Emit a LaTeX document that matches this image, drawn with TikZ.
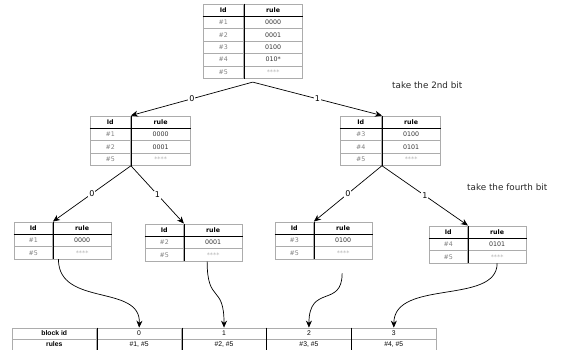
\documentclass[tikz,border=0pt]{standalone}
\usepackage{fontspec}
\setmainfont{DejaVu Sans}
\newfontfamily\arialf{Liberation Sans}
\usetikzlibrary{matrix,calc,arrows.meta}
\tikzset{
  cell/.style={draw=gray!65, inner sep=0pt, minimum height=12.5pt, font=\fontsize{6.3}{7}\selectfont, text=black!80},
  hd/.style={text=black, font=\bfseries\fontsize{6.3}{7}\selectfont},
  star/.style={text=gray!60},
  rtable/.style 2 args={matrix of nodes, anchor=north west, column sep=-0.5pt, row sep=-0.5pt,
    nodes={cell},
    column 1/.style={nodes={minimum width=#1, text=gray}},
    column 2/.style={nodes={minimum width=#2}}},
  divline/.style={draw=black, line width=0.5pt},
  edge/.style={line width=0.7pt, -{Stealth[length=7pt,width=6pt]}},
  lbl/.style={fill=white, inner sep=1pt, font=\fontsize{8}{9}\selectfont},
  note/.style={anchor=west, inner sep=0pt, font=\fontsize{8.8}{10}\selectfont, text=black!85},
  bcell/.style={draw=gray!65, inner sep=0pt, minimum width=85pt, minimum height=11pt, font=\arialf\fontsize{6.8}{8}\selectfont},
  bh/.style={font=\arialf\bfseries\fontsize{6.8}{8}\selectfont}
}
\begin{document}
\begin{tikzpicture}[x=1pt, y=-1pt]
\useasboundingbox (0,0) rectangle (565,349);

% top table
\matrix (top) [rtable={41pt}{59pt}] at (199,0) {
  |[hd]| Id & |[hd]| rule \\
  \#1 & 0000 \\
  \#2 & 0001 \\
  \#3 & 0100 \\
  \#4 & 010* \\
  \#5 & |[star]| **** \\
};
\draw[divline] (top-1-1.north east) -- (top-6-1.south east);
\draw[divline] (top-1-1.south west) -- (top-1-2.south east);

% middle tables
\matrix (ml) [rtable={41pt}{60pt}] at (86,112) {
  |[hd]| Id & |[hd]| rule \\
  \#1 & 0000 \\
  \#2 & 0001 \\
  \#5 & |[star]| **** \\
};
\draw[divline] (ml-1-1.north east) -- (ml-4-1.south east);
\draw[divline] (ml-1-1.south west) -- (ml-1-2.south east);

\matrix (mr) [rtable={42pt}{59pt}] at (336,112) {
  |[hd]| Id & |[hd]| rule \\
  \#3 & 0100 \\
  \#4 & 0101 \\
  \#5 & |[star]| **** \\
};
\draw[divline] (mr-1-1.north east) -- (mr-4-1.south east);
\draw[divline] (mr-1-1.south west) -- (mr-1-2.south east);

% leaf tables
\matrix (ta) [rtable={39pt}{59pt}] at (10,218) {
  |[hd]| Id & |[hd]| rule \\
  \#1 & 0000 \\
  \#5 & |[star]| **** \\
};
\matrix (tb) [rtable={39pt}{59pt}] at (141,220) {
  |[hd]| Id & |[hd]| rule \\
  \#2 & 0001 \\
  \#5 & |[star]| **** \\
};
\matrix (tc) [rtable={39pt}{59pt}] at (271,218) {
  |[hd]| Id & |[hd]| rule \\
  \#3 & 0100 \\
  \#5 & |[star]| **** \\
};
\matrix (td) [rtable={39pt}{59pt}] at (425,222) {
  |[hd]| Id & |[hd]| rule \\
  \#4 & 0101 \\
  \#5 & |[star]| **** \\
};
\foreach \t in {ta,tb,tc,td}{
  \draw[divline] (\t-1-1.north east) -- (\t-3-1.south east);
  \draw[divline] (\t-1-1.south west) -- (\t-1-2.south east);
}

% notes
\node[note] (n1) at (392,85) {take the 2nd bit};
\node[note] (n2) at (467,187) {take the fourth bit};

% tree edges
\draw[edge] (top.south) -- node[lbl]{0} (ml-1-1.north east);
\draw[edge] (top.south) -- node[lbl]{1} (mr-1-1.north east);
\draw[edge] (ml-4-1.south east) -- node[lbl]{0} (ta-1-1.north east);
\draw[edge] (ml-4-1.south east) -- node[lbl]{1} (tb-1-1.north east);
\draw[edge] (mr-4-1.south east) -- node[lbl]{0} (tc-1-1.north east);
\draw[edge] (mr-4-1.south east) -- node[lbl]{1} (td-1-1.north east);

% bottom table
\matrix (bt) [matrix of nodes, anchor=north west, column sep=-0.5pt, row sep=-0.5pt, nodes={bcell}] at (8,324) {
  |[bh]| block id & 0 & 1 & 2 & 3 \\
  |[bh]| rules & \#1, \#5 & \#2, \#5 & \#3, \#5 & \#4, \#5 \\
};
\foreach \i in {1,2,3,4}{
  \draw[divline] (bt-1-\i.north east) -- (bt-2-\i.south east);
}

% curved connectors
\coordinate (sa) at ($(ta-3-2.south west)+(6,0)$);
\coordinate (sb) at ($(tb-3-2.south)+(-6,0)$);
\coordinate (sc) at ($(tc-3-2.south)+(-1,14)$);
\coordinate (sd) at (td-3-2.south);
\draw[edge] (sa) .. controls +(0,48) and +(2,-44) .. (bt-1-2.north);
\draw[edge] (sb) .. controls +(0,43) and +(0,-44) .. (bt-1-3.north);
\draw[edge] (sc) .. controls +(0,35) and +(0,-44) .. (bt-1-4.north);
\draw[edge] (sd) .. controls +(0,42) and +(0,-49) .. (bt-1-5.north);
\end{tikzpicture}
\end{document}
